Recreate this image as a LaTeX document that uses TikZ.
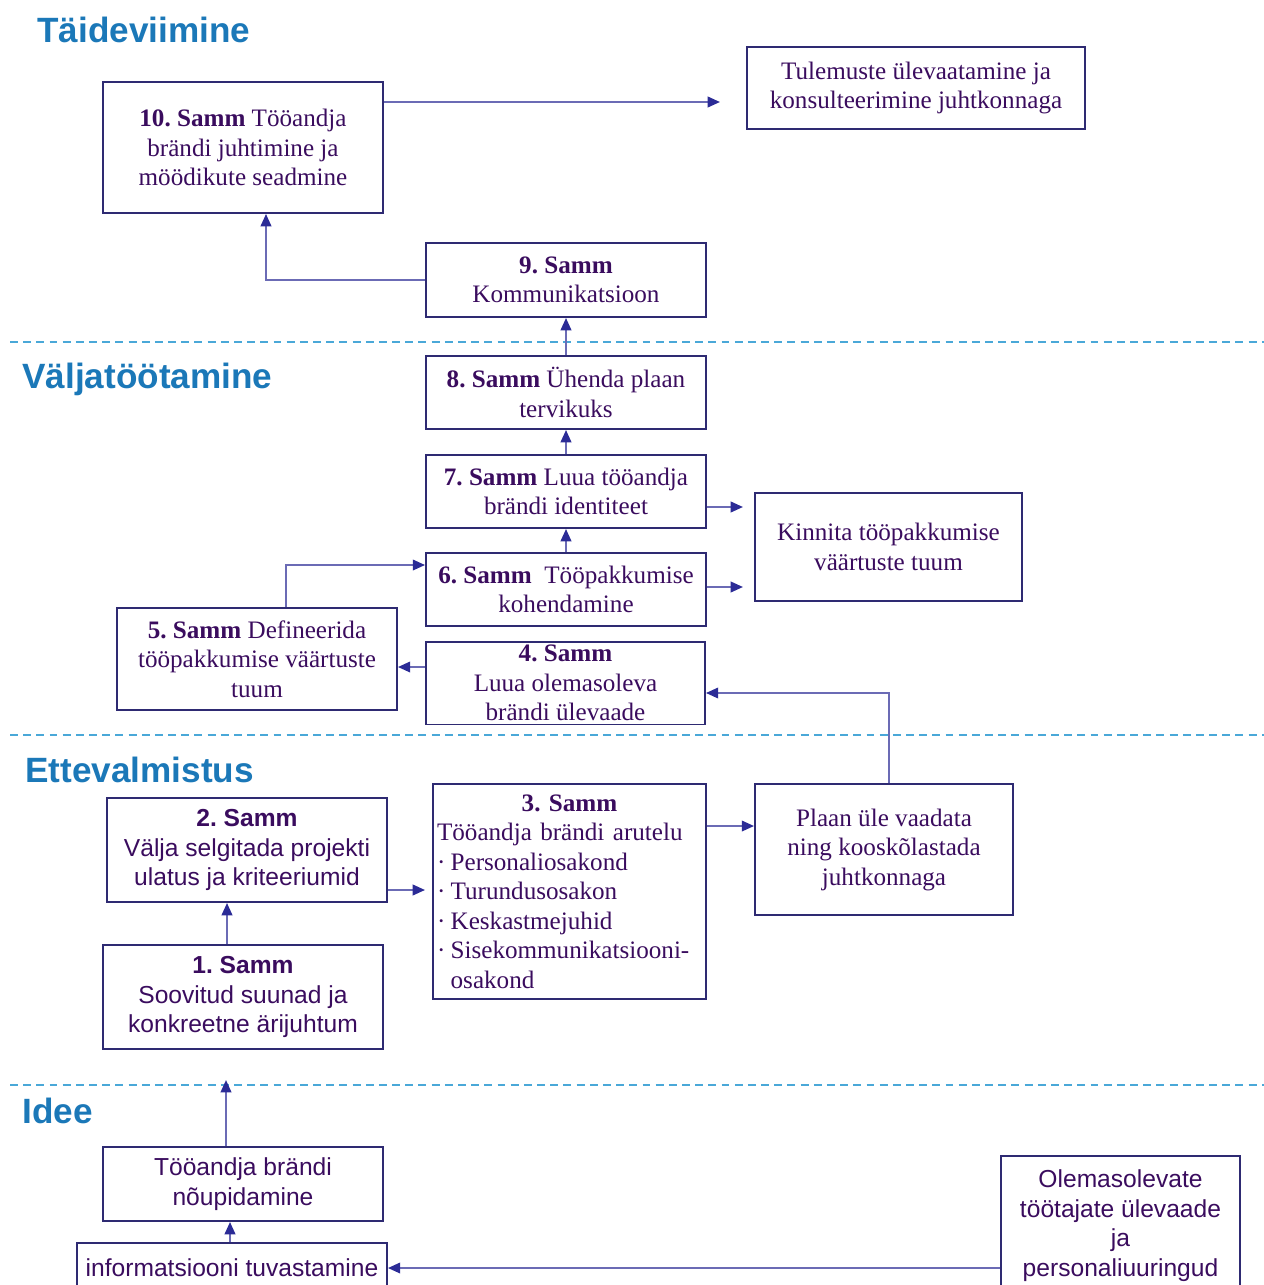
\documentclass[tikz,border=0pt]{standalone}
\usepackage{fontspec}
\setmainfont{Liberation Serif}
\setsansfont{Liberation Sans}
\usepackage{tikz}
\usetikzlibrary{arrows.meta}
\frenchspacing

\definecolor{boxline}{HTML}{2E2A72}
\definecolor{boxtext}{HTML}{3A0C5E}
\definecolor{arrowline}{HTML}{6B6BB5}
\definecolor{arrowhead}{HTML}{2B2B96}
\definecolor{phasetitle}{HTML}{1B78B8}
\definecolor{phaseline}{HTML}{4AA8D8}

\begin{document}
\begin{tikzpicture}[x=0.02cm,y=-0.02cm,
                    >={Triangle[length=7pt,width=6pt,color=arrowhead]}]
  \tikzstyle{stepbox}=[draw=boxline,line width=1.1pt,rectangle,align=center,
                       text=boxtext,inner sep=2pt,
                       font=\fontsize{14.3}{16.8}\selectfont]
  \tikzstyle{sansbox}=[stepbox,font=\sffamily\fontsize{14}{16.8}\selectfont]
  \tikzstyle{phase}=[anchor=base west,inner sep=0pt,text=phasetitle,
                     font=\sffamily\bfseries\fontsize{20}{24}\selectfont]
  \tikzstyle{link}=[->,draw=arrowline,line width=1.2pt]
  \tikzstyle{divider}=[draw=phaseline,line width=1pt,dash pattern=on 4.5pt off 3pt]

  \useasboundingbox (0,0) rectangle (1264,1285);
  \clip (0,0) rectangle (1264,1285);

  % phases
  \node[phase] (A) at (37,42)   {Täideviimine};
  \node[phase] (B) at (22,388)  {Väljatöötamine};
  \node[phase] (C) at (25,782)  {Ettevalmistus};
  \node[phase] (D) at (22,1123) {Idee};

  \draw[divider] (10,342)  -- (1264,342);
  \draw[divider] (10,735)  -- (1264,735);
  \draw[divider] (10,1085) -- (1264,1085);

  % Täideviimine
  \node[stepbox,minimum width=5.6cm,minimum height=2.62cm] (S10) at (243,147.5)
       {\textbf{10. Samm} Tööandja\\brändi juhtimine ja\\möödikute seadmine};
  \node[stepbox,minimum width=6.76cm,minimum height=1.64cm] (T) at (916,88)
       {Tulemuste ülevaatamine ja\\konsulteerimine juhtkonnaga};
  \node[stepbox,minimum width=5.6cm,minimum height=1.48cm] (S9) at (566,280)
       {\textbf{9. Samm}\\Kommunikatsioon};

  % Väljatöötamine
  \node[stepbox,minimum width=5.6cm,minimum height=1.46cm] (S8) at (566,392.5)
       {\textbf{8. Samm} Ühenda plaan\\tervikuks};
  \node[stepbox,minimum width=5.6cm,minimum height=1.46cm] (S7) at (566,491.5)
       {\textbf{7. Samm} Luua tööandja\\brändi identiteet};
  \node[stepbox,minimum width=5.34cm,minimum height=2.16cm] (K) at (888.5,547)
       {Kinnita tööpakkumise\\väärtuste tuum};
  \node[stepbox,minimum width=5.6cm,minimum height=1.46cm] (S6) at (566,589.5)
       {\textbf{6. Samm}\enspace Tööpakkumise\\kohendamine};
  \node[stepbox,minimum width=5.6cm,minimum height=2.04cm] (S5) at (257,659)
       {\textbf{5. Samm} Defineerida\\tööpakkumise väärtuste\\tuum};
  \node[stepbox,minimum width=5.58cm,minimum height=1.56cm] (S4) at (565.5,683)
       {\textbf{4. Samm}\\Luua olemasoleva\\brändi ülevaade};

  % Ettevalmistus
  \node[sansbox,minimum width=5.6cm,minimum height=2.08cm] (S2) at (247,850)
       {\textbf{2. Samm}\\Välja selgitada projekti\\ulatus ja kriteeriumid};
  \node[stepbox,align=left,text width=5.3cm,minimum width=5.46cm,minimum height=4.3cm] (S3) at (569.5,891.5)
       {\makebox[5.3cm][c]{\textbf{3. Samm}}\\Tööandja brändi arutelu\\·\kern3pt Personaliosakond\\·\kern3pt Turundusosakon\\·\kern3pt Keskastmejuhid\\·\kern3pt Sisekommunikatsiooni-\\\phantom{·}\kern3pt osakond};
  \node[stepbox,minimum width=5.16cm,minimum height=2.62cm] (P) at (884,849.5)
       {Plaan üle vaadata\\ning kooskõlastada\\juhtkonnaga};
  \node[sansbox,minimum width=5.6cm,minimum height=2.08cm] (S1) at (243,997)
       {\textbf{1. Samm}\\Soovitud suunad ja\\konkreetne ärijuhtum};

  % Idee
  \node[sansbox,minimum width=5.6cm,minimum height=1.48cm] (N) at (243,1184)
       {Tööandja brändi\\nõupidamine};
  \node[sansbox,minimum width=6.2cm,minimum height=1.0cm] (I) at (232,1268)
       {informatsiooni tuvastamine};
  \node[sansbox,minimum width=4.78cm,minimum height=2.78cm] (O) at (1120.5,1225.5)
       {Olemasolevate\\töötajate ülevaade\\ja\\personaliuuringud};

  \coordinate (t10) at (720,102);
  \coordinate (k7) at (743,507);
  \coordinate (k6) at (743,587);
  \coordinate (idea) at (226,1080);

  \draw[link] (t10 -| S10.east) -- (t10);
  \draw[link] (S9.west) -| ([xshift=0.46cm]S10.south);
  \draw[link] (S8) -- (S9);
  \draw[link] (S7) -- (S8);
  \draw[link] (S6) -- (S7);
  \draw[link] (k7 -| S7.east) -- (k7);
  \draw[link] (k6 -| S6.east) -- (k6);
  \draw[link] ([xshift=0.58cm]S5.north) |- ([yshift=0.49cm]S6.west);
  \draw[link] ([yshift=0.32cm]S4.west) -- ([yshift=0.32cm]S4.west -| S5.east);
  \draw[link] ([xshift=0.1cm]P.north) |- ([yshift=-0.2cm]S4.east);
  \draw[link] ([yshift=1.31cm]S3.east) -- ([yshift=1.31cm]S3.east -| P.west);
  \draw[link,shorten >=4pt] ([yshift=-0.8cm]S2.east) -- ([yshift=-0.8cm]S2.east -| S3.west);
  \draw[link] ([xshift=-0.32cm]S1.north) -- ([xshift=-0.32cm]S1.north |- S2.south);
  \draw[link] (N.north -| idea) -- (idea);
  \draw[link] ([xshift=-0.26cm]N.south |- I.north) -- ([xshift=-0.26cm]N.south);
  \draw[link] (I.east -| O.west) -- (I.east);
\end{tikzpicture}
\end{document}
